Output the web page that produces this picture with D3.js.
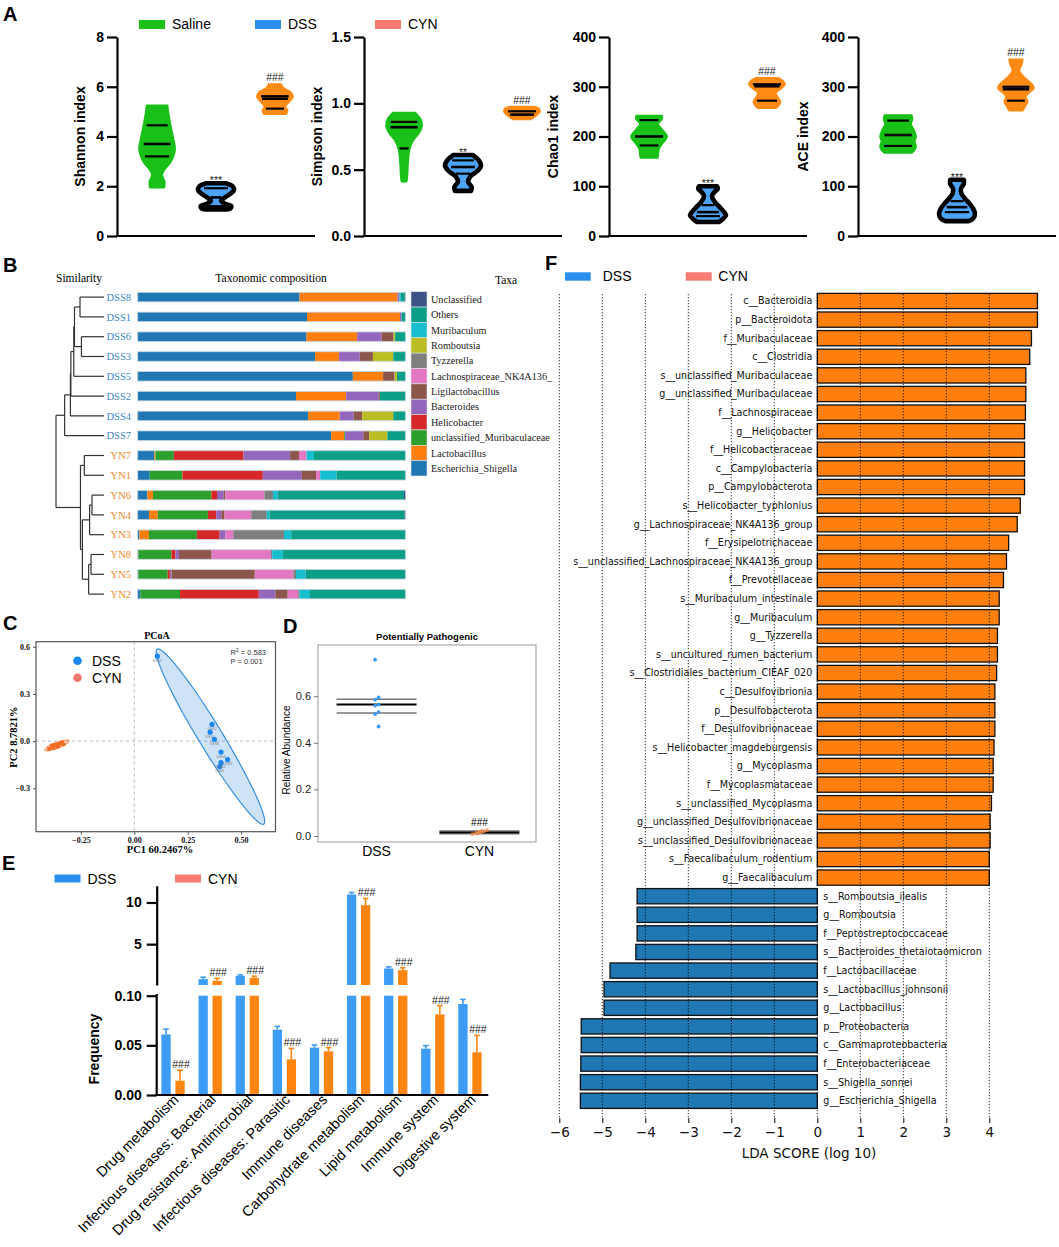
<!DOCTYPE html>
<html>
<head>
<meta charset="utf-8">
<script src="https://cdn.jsdelivr.net/npm/d3@7"></script>
<style>
  body { margin: 0; background: #fff; }
  text { font-family: "Liberation Sans", Arial, sans-serif; }
  .serif { font-family: "Liberation Serif", "Times New Roman", serif; }
  .dv { font-family: "DejaVu Sans", sans-serif; }
</style>
</head>
<body>
<svg id="fig" width="1059" height="1247"></svg>
<script>
// ---------------- data ----------------
// A: violin profiles as [value, relative width], plus median/quartile lines
var groupsA = ["Saline", "DSS", "CYN"];
var indexNames = ["Shannon index", "Simpson index", "Chao1 index", "ACE index"];
var indexMax = [8, 1.5, 400, 400];
var indexTicks = [[0, 2, 4, 6, 8], [0, 0.5, 1.0, 1.5], [0, 100, 200, 300, 400], [0, 100, 200, 300, 400]];

var shannonSaline = [[5.25,0.58],[5.0,0.62],[4.5,0.74],[4.0,0.88],[3.5,1.0],[3.0,0.78],[2.65,0.4],[2.45,0.28],[2.2,0.42],[1.95,0.4]];
var shannonDSS    = [[2.12,0.55],[2.0,0.92],[1.85,1.0],[1.7,0.8],[1.55,0.5],[1.42,0.28],[1.3,0.5],[1.2,0.85],[1.1,0.78],[1.07,0.6]];
var shannonCYN    = [[6.1,0.35],[5.95,0.48],[5.8,0.85],[5.6,1.0],[5.4,0.8],[5.2,0.58],[5.05,0.7],[4.9,0.62]];
var simpsonSaline = [[0.93,0.62],[0.88,0.92],[0.83,1.0],[0.78,0.85],[0.72,0.5],[0.65,0.3],[0.55,0.22],[0.45,0.18],[0.41,0.14]];
var simpsonDSS    = [[0.61,0.55],[0.57,0.88],[0.53,1.0],[0.49,0.8],[0.45,0.42],[0.41,0.28],[0.37,0.48],[0.34,0.45]];
var simpsonCYN    = [[0.975,0.65],[0.96,0.95],[0.94,1.0],[0.92,0.9],[0.9,0.72],[0.88,0.5]];
var chaoSaline    = [[242,0.72],[235,0.72],[225,0.5],[215,0.7],[200,1.0],[185,0.72],[175,0.55],[162,0.5],[157,0.48]];
var chaoDSS       = [[100,0.5],[95,0.55],[88,0.35],[80,0.22],[70,0.35],[60,0.6],[50,0.85],[42,1.0],[35,0.85],[28,0.6]];
var chaoCYN       = [[318,0.6],[312,0.9],[305,1.0],[297,0.8],[288,0.5],[280,0.58],[270,0.75],[262,0.65],[257,0.5]];
var aceSaline     = [[243,0.75],[235,0.8],[225,0.72],[212,0.9],[200,1.0],[190,0.92],[180,1.0],[172,0.9],[167,0.75]];
var aceDSS        = [[113,0.38],[105,0.38],[95,0.22],[85,0.25],[75,0.45],[65,0.7],[55,0.9],[45,1.0],[35,0.9],[30,0.65]];
var aceCYN        = [[355,0.38],[345,0.32],[332,0.2],[318,0.5],[305,0.9],[297,1.0],[288,0.72],[280,0.55],[270,0.65],[260,0.5],[252,0.38]];

var shannonLines = {Saline: [4.45, 3.7, 3.2], DSS: [1.92, 1.55, 1.2], CYN: [5.62, 5.52, 5.12]};
var simpsonLines = {Saline: [0.86, 0.82, 0.66], DSS: [0.57, 0.52, 0.47], CYN: [0.94, 0.915]};
var chaoLines    = {Saline: [233, 200, 182], DSS: [62, 48, 40], CYN: [305, 301, 272]};
var aceLines     = {Saline: [232, 203, 181], DSS: [70, 58, 48], CYN: [300, 295, 272]};
var sigA = [["***", "###"], ["**", "###"], ["***", "###"], ["***", "###"]];

// B: taxonomic composition (% per taxon, stacked left to right)
var taxa = ["Escherichia_Shigella", "Lactobacillus", "unclassified_Muribaculaceae", "Helicobacter", "Bacteroides",
  "Ligilactobacillus", "Lachnospiraceae_NK4A136_", "Tyzzerella", "Romboutsia", "Muribaculum", "Others", "Unclassified"];
var taxaColors = ["#1f77b4", "#ff7f0e", "#2ca02c", "#d62728", "#9467bd", "#8c564b", "#e377c2", "#7f7f7f", "#bcbd22", "#17becf", "#0a9f86", "#3c5488"];
var samples = ["DSS8", "DSS1", "DSS6", "DSS3", "DSS5", "DSS2", "DSS4", "DSS7", "YN7", "YN1", "YN6", "YN4", "YN3", "YN8", "YN5", "YN2"];
var composition = [
  [60.4, 36.6, 0, 0, 0.7, 0, 0, 0, 0, 0.5, 1.5, 0.3],
  [63.2, 34.7, 0, 0, 0.6, 0, 0, 0, 0, 0, 1.3, 0.2],
  [63.0, 18.9, 0, 0, 9.1, 4.5, 0, 0, 0.6, 0, 3.9, 0],
  [66.2, 8.9, 0, 0, 7.8, 4.9, 0, 0, 7.6, 0, 4.6, 0],
  [80.3, 11.3, 0, 0, 0, 4.3, 0, 0, 0.9, 0, 3.2, 0],
  [59.1, 18.7, 0, 0, 12.2, 0.4, 0, 0, 0, 0, 9.6, 0],
  [63.6, 11.8, 0, 0, 5.2, 3.2, 0, 0, 11.6, 0, 4.6, 0],
  [72.2, 4.9, 0.3, 0, 6.8, 2.2, 0, 0, 6.8, 0, 6.8, 0],
  [6.2, 0.4, 6.9, 26.0, 17.4, 3.3, 2.8, 0, 0, 2.8, 34.2, 0],
  [4.5, 0, 12.2, 30.0, 14.6, 5.3, 1.5, 0, 0, 6.1, 25.8, 0],
  [3.6, 2.1, 21.8, 2.1, 2.5, 0.6, 14.6, 3.2, 0, 1.8, 47.1, 0.6],
  [4.2, 3.3, 18.7, 3.1, 1.9, 1.2, 10.0, 5.8, 0, 1.0, 50.4, 0.4],
  [0.6, 3.6, 17.9, 8.5, 2.2, 0, 2.9, 18.9, 0, 2.7, 42.7, 0],
  [0.3, 0, 12.3, 1.5, 1.3, 12.2, 22.1, 0.5, 0, 4.0, 45.8, 0],
  [0.3, 0, 10.9, 0.8, 0.6, 31.1, 14.4, 1.0, 0, 3.6, 37.3, 0],
  [1.0, 0, 14.8, 29.4, 6.2, 4.6, 3.9, 0.5, 0, 3.9, 35.7, 0]
];
// dendrogram: merge heights (0 = leaves, 1 = root)
var dendro = {h: 1.0, c: [
  {h: 0.82, c: [{h: 0.70, c: [{h: 0.69, c: [{h: 0.63, c: [{h: 0.615, c: [{h: 0.50, c: ["DSS8", "DSS1"]}, {h: 0.47, c: ["DSS6", "DSS3"]}]}, "DSS5"]}, "DSS2"]}, "DSS4"]}, "DSS7"]},
  {h: 0.49, c: [{h: 0.41, c: ["YN7", "YN1"]}, {h: 0.45, c: [{h: 0.30, c: [{h: 0.25, c: ["YN6", "YN4"]}, "YN3"]}, {h: 0.32, c: [{h: 0.27, c: ["YN8", "YN5"]}, "YN2"]}]}]}
]};

// C: PCoA coordinates
var pcoaDSS = [[0.108, 0.540], [0.364, 0.106], [0.355, 0.057], [0.375, 0.011], [0.406, -0.070], [0.437, -0.118], [0.406, -0.137], [0.400, -0.162]];
var pcoaDSSnames = ["DSS7", "DSS2", "DSS4", "DSS6", "DSS8", "DSS3", "DSS5", "DSS1"];
var pcoaCYN = [[-0.398, -0.050], [-0.385, -0.028], [-0.378, -0.042], [-0.366, -0.022], [-0.358, -0.035], [-0.347, -0.015], [-0.338, -0.010], [-0.332, -0.020]];

// D: potentially pathogenic relative abundance
var ppGroups = ["DSS", "CYN"];
var ppDSS = [0.757, 0.595, 0.585, 0.564, 0.560, 0.532, 0.523, 0.470];
var ppCYN = [0.008, 0.010, 0.012, 0.015, 0.018, 0.020, 0.022, 0.025];
var ppMean = [0.565, 0.015];
var ppSE = [[0.528, 0.587], [0.009, 0.021]];

// E: predicted functions
var funcs = ["Drug metabolism", "Infectious diseases: Bacterial", "Drug resistance: Antimicrobial", "Infectious diseases: Parasitic",
  "Immune diseases", "Carbohydrate metabolism", "Lipid metabolism", "Immune system", "Digestive system"];
var dssFreq = [0.061, 0.80, 1.20, 0.0658, 0.0477, 10.96, 2.08, 0.0466, 0.0916];
var dssErr  = [0.0054, 0.24, 0.10, 0.0033, 0.0026, 0.24, 0.20, 0.0031, 0.0047];
var cynFreq = [0.0144, 0.60, 0.96, 0.0359, 0.044, 9.68, 1.88, 0.0812, 0.043];
var cynErr  = [0.0106, 0.29, 0.20, 0.0111, 0.0037, 0.80, 0.28, 0.0087, 0.017];

// F: LEfSe LDA scores
var ldaTaxa = ["c__Bacteroidia", "p__Bacteroidota", "f__Muribaculaceae", "c__Clostridia", "s__unclassified_Muribaculaceae",
  "g__unclassified_Muribaculaceae", "f__Lachnospiraceae", "g__Helicobacter", "f__Helicobacteraceae", "c__Campylobacteria",
  "p__Campylobacterota", "s__Helicobacter_typhlonius", "g__Lachnospiraceae_NK4A136_group", "f__Erysipelotrichaceae",
  "s__unclassified_Lachnospiraceae_NK4A136_group", "f__Prevotellaceae", "s__Muribaculum_intestinale", "g__Muribaculum",
  "g__Tyzzerella", "s__uncultured_rumen_bacterium", "s__Clostridiales_bacterium_CIEAF_020", "c__Desulfovibrionia",
  "p__Desulfobacterota", "f__Desulfovibrionaceae", "s__Helicobacter_magdeburgensis", "g__Mycoplasma", "f__Mycoplasmataceae",
  "s__unclassified_Mycoplasma", "g__unclassified_Desulfovibrionaceae", "s__unclassified_Desulfovibrionaceae",
  "s__Faecalibaculum_rodentium", "g__Faecalibaculum", "s__Romboutsia_ilealis", "g__Romboutsia", "f__Peptostreptococcaceae",
  "s__Bacteroides_thetaiotaomicron", "f__Lactobacillaceae", "s__Lactobacillus_johnsonii", "g__Lactobacillus",
  "p__Proteobacteria", "c__Gammaproteobacteria", "f__Enterobacteriaceae", "s__Shigella_sonnei", "g__Escherichia_Shigella"];
var ldaScore = [5.12, 5.12, 4.98, 4.94, 4.85, 4.85, 4.84, 4.82, 4.82, 4.82, 4.82, 4.72, 4.65, 4.45, 4.40, 4.33,
  4.23, 4.23, 4.19, 4.19, 4.17, 4.13, 4.13, 4.13, 4.11, 4.09, 4.09, 4.05, 4.02, 4.02, 4.00, 4.00,
  -4.19, -4.19, -4.19, -4.22, -4.82, -4.96, -4.96, -5.49, -5.49, -5.50, -5.51, -5.51];
var ldaTicks = [-6, -5, -4, -3, -2, -1, 0, 1, 2, 3, 4];

// ---------------- drawing ----------------
var svg = d3.select("#fig");
var legendBlue = "#2b8ff0", legendSalmon = "#f77b72";

function panelLabel(t, x, y) {
  svg.append("text").attr("x", x).attr("y", y).attr("font-size", 20).attr("font-weight", "bold").text(t);
}
function vLabel(g, t, x, y, size, weight, cls) {
  g.append("text").attr("class", cls || null)
    .attr("transform", "translate(" + x + "," + y + ") rotate(-90)")
    .attr("text-anchor", "middle").attr("dy", "0.35em")
    .attr("font-size", size).attr("font-weight", weight).text(t);
}
function styleAxis(sel, w, size) {
  sel.selectAll("path, line").attr("stroke", "#000").attr("stroke-width", w);
  sel.selectAll("text").attr("font-size", size).attr("font-weight", "bold").attr("fill", "#000")
    .attr("font-family", "'Liberation Sans', Arial, sans-serif");
}
function legendItem(x, y, h, color, label) {
  svg.append("rect").attr("x", x).attr("y", y).attr("width", 26).attr("height", h).attr("fill", color);
  svg.append("text").attr("x", x + 33).attr("y", y + 9).attr("font-size", 14).text(label);
}

// ===== A =====
panelLabel("A", 3, 21);
legendItem(139, 20, 9, "#18c018", "Saline");
legendItem(255, 20, 9, legendBlue, "DSS");
legendItem(375, 20, 9, legendSalmon, "CYN");

var violins = [
  {Saline: shannonSaline, DSS: shannonDSS, CYN: shannonCYN},
  {Saline: simpsonSaline, DSS: simpsonDSS, CYN: simpsonCYN},
  {Saline: chaoSaline, DSS: chaoDSS, CYN: chaoCYN},
  {Saline: aceSaline, DSS: aceDSS, CYN: aceCYN}
];
var violinLines = [shannonLines, simpsonLines, chaoLines, aceLines];
var fillA = {Saline: "#18c018", DSS: "#4da3f5", CYN: "#ff8b14"};
var strokeA = {Saline: "#18c018", DSS: "#000", CYN: "#ff8b14"};
var chartX = [117, 364, 609, 858], chartW = 198, aTop = 37, aBot = 236;
var labelOff = [37, 47, 56, 55];
var tickFmt = [d3.format("d"), d3.format(".1f"), d3.format("d"), d3.format("d")];

indexNames.forEach(function(name, k) {
  var g = svg.append("g");
  var y = d3.scaleLinear().domain([0, indexMax[k]]).range([aBot, aTop]);
  var x = d3.scalePoint().domain(groupsA).range([chartX[k], chartX[k] + chartW]).padding(0.68);
  var w = d3.scaleLinear().domain([0, 1]).range([0, 18]);

  var ax = g.append("g").attr("transform", "translate(" + chartX[k] + ",0)")
    .call(d3.axisLeft(y).tickValues(indexTicks[k]).tickFormat(tickFmt[k]).tickSize(10).tickSizeOuter(0).tickPadding(3));
  styleAxis(ax, 2.2, 14);
  g.append("line").attr("x1", chartX[k] - 1).attr("x2", chartX[k] + chartW).attr("y1", aBot).attr("y2", aBot)
    .attr("stroke", "#000").attr("stroke-width", 2.2);
  vLabel(g, name, chartX[k] - labelOff[k], (aTop + aBot) / 2, 14, "bold");

  groupsA.forEach(function(grp, gi) {
    var prof = violins[k][grp];
    var cx = x(grp);
    var area = d3.area().curve(d3.curveCatmullRom)
      .y(function(d) { return y(d[0]); })
      .x0(function(d) { return cx - w(d[1]); })
      .x1(function(d) { return cx + w(d[1]); });
    g.append("path").datum(prof).attr("d", area)
      .attr("fill", fillA[grp]).attr("stroke", strokeA[grp])
      .attr("stroke-width", grp === "DSS" ? 4.6 : 1.8).attr("stroke-linejoin", "round");
    var widthAt = d3.scaleLinear().domain(prof.map(function(p) { return p[0]; })).range(prof.map(function(p) { return p[1]; })).clamp(true);
    violinLines[k][grp].forEach(function(v, i) {
      var hw = Math.max(2, w(widthAt(v)) * 0.78 - (grp === "DSS" ? 1.5 : 0));
      g.append("line").attr("x1", cx - hw).attr("x2", cx + hw).attr("y1", y(v)).attr("y2", y(v))
        .attr("stroke", "#000").attr("stroke-width", i === 1 ? 2.6 : 2.2);
    });
    if (gi > 0) {
      var top = y(prof[0][0]);
      var s = sigA[k][gi - 1];
      g.append("text").attr("x", cx).attr("y", s.charAt(0) === "#" ? top - 3 : top + 1)
        .attr("text-anchor", "middle").attr("font-size", 10.5).attr("fill", "#222").text(s);
    }
  });
});

// ===== B =====
panelLabel("B", 3, 272);
svg.append("text").attr("class", "serif").attr("x", 56).attr("y", 282).attr("font-size", 11.5).text("Similarity");
svg.append("text").attr("class", "serif").attr("x", 271).attr("y", 282).attr("text-anchor", "middle").attr("font-size", 11.5).text("Taxonomic composition");
svg.append("text").attr("class", "serif").attr("x", 506).attr("y", 284).attr("text-anchor", "middle").attr("font-size", 11.5).text("Taxa");

var yB = d3.scaleBand().domain(samples).range([287.2, 604]).paddingInner(0.52).paddingOuter(0.26);
var xB = d3.scaleLinear().domain([0, 100]).range([137.7, 405.6]);
var rowsB = samples.map(function(s, i) {
  var o = {sample: s};
  taxa.forEach(function(t, j) { o[t] = composition[i][j]; });
  return o;
});
var stackB = d3.stack().keys(taxa)(rowsB);
var gB = svg.append("g");
gB.selectAll("g.layer").data(stackB).enter().append("g").attr("fill", function(d, i) { return taxaColors[i]; })
  .selectAll("rect").data(function(d) { return d; }).enter().append("rect")
  .attr("x", function(d) { return xB(d[0]); })
  .attr("width", function(d) { return Math.max(0, xB(d[1]) - xB(d[0])); })
  .attr("y", function(d) { return yB(d.data.sample); })
  .attr("height", yB.bandwidth());
gB.selectAll("rect.frame").data(samples).enter().append("rect").attr("class", "frame")
  .attr("x", xB(0)).attr("width", xB(100) - xB(0))
  .attr("y", function(d) { return yB(d); }).attr("height", yB.bandwidth())
  .attr("fill", "none").attr("stroke", "#c6d3de").attr("stroke-width", 0.8);
gB.selectAll("text.sample").data(samples).enter().append("text").attr("class", "serif")
  .attr("x", 131).attr("y", function(d) { return yB(d) + yB.bandwidth() / 2; }).attr("dy", "0.35em")
  .attr("text-anchor", "end").attr("font-size", 10.5)
  .attr("fill", function(d) { return d.indexOf("DSS") === 0 ? "#3a86c8" : "#f08a1e"; })
  .text(function(d) { return d; });

// dendrogram
var hx = d3.scaleLinear().domain([0, 1]).range([104, 56]);
function drawTree(node) {
  if (typeof node === "string") return {x: hx(0), y: yB(node) + yB.bandwidth() / 2};
  var kids = node.c.map(drawTree);
  var xh = hx(node.h);
  kids.forEach(function(k) {
    gB.append("line").attr("x1", xh).attr("x2", k.x).attr("y1", k.y).attr("y2", k.y);
  });
  gB.append("line").attr("x1", xh).attr("x2", xh).attr("y1", kids[0].y).attr("y2", kids[kids.length - 1].y);
  return {x: xh, y: (kids[0].y + kids[kids.length - 1].y) / 2};
}
drawTree(dendro);
gB.selectAll("line").attr("stroke", "#333").attr("stroke-width", 1.2);

// taxa legend (reverse stack order)
var legTaxa = taxa.slice().reverse(), legColors = taxaColors.slice().reverse();
var yLeg = d3.scaleBand().domain(legTaxa).range([291.7, 476]);
legTaxa.forEach(function(t, i) {
  gB.append("rect").attr("x", 411).attr("y", yLeg(t)).attr("width", 16).attr("height", yLeg.bandwidth())
    .attr("fill", legColors[i]).attr("stroke", "#dde4ea").attr("stroke-width", 0.6);
  gB.append("text").attr("class", "serif").attr("x", 431).attr("y", yLeg(t) + yLeg.bandwidth() / 2)
    .attr("dy", "0.35em").attr("font-size", 10.2).attr("fill", "#222").text(t);
});

// ===== C =====
panelLabel("C", 3, 630);
var gC = svg.append("g");
var xC = d3.scaleLinear().domain([-0.46, 0.661]).range([36, 275.5]);
var yC = d3.scaleLinear().domain([-0.576, 0.632]).range([831.7, 641.7]);
gC.append("line").attr("x1", xC(0)).attr("x2", xC(0)).attr("y1", yC.range()[1]).attr("y2", yC.range()[0])
  .attr("stroke", "#bbb").attr("stroke-dasharray", "3,3");
gC.append("line").attr("x1", xC.range()[0]).attr("x2", xC.range()[1]).attr("y1", yC(0)).attr("y2", yC(0))
  .attr("stroke", "#bbb").attr("stroke-dasharray", "3,3");

function ellipsePath(pts) {
  var n = pts.length;
  var mx = d3.mean(pts, function(p) { return p[0]; }), my = d3.mean(pts, function(p) { return p[1]; });
  var sxx = d3.sum(pts, function(p) { return (p[0] - mx) * (p[0] - mx); }) / (n - 1);
  var syy = d3.sum(pts, function(p) { return (p[1] - my) * (p[1] - my); }) / (n - 1);
  var sxy = d3.sum(pts, function(p) { return (p[0] - mx) * (p[1] - my); }) / (n - 1);
  var tr = sxx + syy, det = sxx * syy - sxy * sxy;
  var l1 = tr / 2 + Math.sqrt(tr * tr / 4 - det), l2 = tr / 2 - Math.sqrt(tr * tr / 4 - det);
  var th = Math.atan2(l1 - sxx, sxy);
  var r = Math.sqrt(5.991);
  var out = d3.range(0, 361, 4).map(function(a) {
    var t = a * Math.PI / 180;
    var u = r * Math.sqrt(l1) * Math.cos(t), v = r * Math.sqrt(Math.max(l2, 0)) * Math.sin(t);
    return [xC(mx + u * Math.cos(th) - v * Math.sin(th)), yC(my + u * Math.sin(th) + v * Math.cos(th))];
  });
  return d3.line()(out) + "Z";
}
gC.append("path").attr("d", ellipsePath(pcoaDSS)).attr("fill", "#3b8fe0").attr("fill-opacity", 0.25)
  .attr("stroke", "#3b8fe0").attr("stroke-width", 1.2);
gC.append("path").attr("d", ellipsePath(pcoaCYN)).attr("fill", "#f26b22").attr("fill-opacity", 0.2)
  .attr("stroke", "#f26b22").attr("stroke-width", 1);
gC.selectAll("circle.dss").data(pcoaDSS).enter().append("circle")
  .attr("cx", function(d) { return xC(d[0]); }).attr("cy", function(d) { return yC(d[1]); })
  .attr("r", 2.6).attr("fill", "#1a86f0");
gC.selectAll("text.dssn").data(pcoaDSS).enter().append("text")
  .attr("x", function(d) { return xC(d[0]); }).attr("y", function(d) { return yC(d[1]) + 5.5; })
  .attr("text-anchor", "middle").attr("font-size", 3.5).attr("fill", "#777")
  .text(function(d, i) { return pcoaDSSnames[i]; });
gC.selectAll("circle.cyn").data(pcoaCYN).enter().append("circle")
  .attr("cx", function(d) { return xC(d[0]); }).attr("cy", function(d) { return yC(d[1]); })
  .attr("r", 2.3).attr("fill", "#f26b22");
gC.append("rect").attr("x", 36).attr("y", 641.7).attr("width", 239.5).attr("height", 190)
  .attr("fill", "none").attr("stroke", "#555").attr("stroke-width", 1.2);
var axCx = gC.append("g").attr("transform", "translate(0,831.7)")
  .call(d3.axisBottom(xC).tickValues([-0.25, 0, 0.25, 0.5]).tickFormat(d3.format(".2f")).tickSize(3).tickSizeOuter(0));
var axCy = gC.append("g").attr("transform", "translate(36,0)")
  .call(d3.axisLeft(yC).tickValues([-0.3, 0, 0.3, 0.6]).tickFormat(d3.format(".1f")).tickSize(3).tickSizeOuter(0));
[axCx, axCy].forEach(function(a) {
  a.select(".domain").remove();
  a.selectAll("line").attr("stroke", "#555");
  a.selectAll("text").attr("class", "serif").attr("font-size", 8).attr("font-weight", "bold").attr("fill", "#111");
});
gC.append("text").attr("class", "serif").attr("x", 157).attr("y", 639).attr("text-anchor", "middle")
  .attr("font-size", 10).attr("font-weight", "bold").text("PCoA");
gC.append("text").attr("class", "serif").attr("x", 160).attr("y", 853).attr("text-anchor", "middle")
  .attr("font-size", 10.5).attr("font-weight", "bold").text("PC1 60.2467%");
vLabel(gC, "PC2 8.7821%", 13, 737, 10.5, "bold", "serif");
gC.append("circle").attr("cx", 77.5).attr("cy", 660.7).attr("r", 4.3).attr("fill", "#1a86f0");
gC.append("text").attr("x", 92).attr("y", 660.7).attr("dy", "0.35em").attr("font-size", 14).text("DSS");
gC.append("circle").attr("cx", 77.5).attr("cy", 677.7).attr("r", 4.3).attr("fill", "#f4756e");
gC.append("text").attr("x", 92).attr("y", 677.7).attr("dy", "0.35em").attr("font-size", 14).text("CYN");
var r2 = gC.append("text").attr("x", 230.5).attr("y", 655).attr("font-size", 7.5).attr("fill", "#333");
r2.append("tspan").text("R");
r2.append("tspan").attr("dy", -3).attr("font-size", 5).text("2");
r2.append("tspan").attr("dy", 3).text(" = 0.583");
gC.append("text").attr("x", 230.5).attr("y", 663.5).attr("font-size", 7.5).attr("fill", "#333").text("P = 0.001");

// ===== D =====
panelLabel("D", 283, 633);
var gD = svg.append("g");
var xD = d3.scalePoint().domain(ppGroups).range([320, 536]).padding(0.55);
var yD = d3.scaleLinear().domain([-0.026, 0.82]).range([842, 645]);
gD.append("rect").attr("x", 318).attr("y", 645).attr("width", 218).attr("height", 197)
  .attr("fill", "none").attr("stroke", "#999").attr("stroke-width", 1);
var axDy = gD.append("g").attr("transform", "translate(318,0)")
  .call(d3.axisLeft(yD).tickValues([0, 0.2, 0.4, 0.6]).tickFormat(d3.format(".1f")).tickSize(4).tickSizeOuter(0));
axDy.select(".domain").remove();
axDy.selectAll("line").attr("stroke", "#777");
axDy.selectAll("text").attr("font-size", 11).attr("fill", "#222");
vLabel(gD, "Relative Abundance", 286, 750, 10, "normal");
gD.append("text").attr("x", 427).attr("y", 640).attr("text-anchor", "middle").attr("font-size", 9.5)
  .attr("font-weight", "bold").text("Potentially Pathogenic");
ppGroups.forEach(function(grp, gi) {
  var cx = xD(grp);
  gD.append("text").attr("x", cx).attr("y", 856).attr("text-anchor", "middle").attr("font-size", 14).text(grp);
  ppSE[gi].forEach(function(v) {
    gD.append("line").attr("x1", cx - 40).attr("x2", cx + 40).attr("y1", yD(v)).attr("y2", yD(v))
      .attr("stroke", "#777").attr("stroke-width", 1.4);
  });
  gD.append("line").attr("x1", cx - 40).attr("x2", cx + 40).attr("y1", yD(ppMean[gi])).attr("y2", yD(ppMean[gi]))
    .attr("stroke", "#000").attr("stroke-width", 2);
  var vals = gi === 0 ? ppDSS : ppCYN;
  gD.selectAll("circle.g" + gi).data(vals).enter().append("circle")
    .attr("cx", function(d, i) { return cx + (i % 2 === 0 ? -1.5 : 2) + (gi === 1 ? (i - 3.5) * 1.6 : 0); })
    .attr("cy", function(d) { return yD(d); })
    .attr("r", 1.9).attr("fill", gi === 0 ? "#3d9cf5" : "#f08c4a").attr("fill-opacity", gi === 0 ? 1 : 0.8);
});
gD.append("text").attr("x", xD("CYN")).attr("y", 826).attr("text-anchor", "middle").attr("font-size", 10).text("###");

// ===== E =====
panelLabel("E", 2, 870);
legendItem(54.5, 874.5, 8, legendBlue, "DSS");
legendItem(175, 874.5, 8, legendSalmon, "CYN");

var gE = svg.append("g");
var xE = d3.scaleBand().domain(funcs).range([154.5, 488.5]);
var xSub = d3.scaleBand().domain(["DSS", "CYN"]).range([0, xE.bandwidth()]).paddingInner(0.336).paddingOuter(0.493);
var yLow = d3.scaleLinear().domain([0, 0.1]).range([1095, 995.7]);
var yUp = d3.scaleLinear().domain([0.1, 12]).range([985, 885.8]);
var colorE = {DSS: "#3d9cf5", CYN: "#ff8410"};

funcs.forEach(function(f, i) {
  [["DSS", dssFreq[i], dssErr[i]], ["CYN", cynFreq[i], cynErr[i]]].forEach(function(b) {
    var bx = xE(f) + xSub(b[0]), bw = xSub.bandwidth(), v = b[1], e = b[2];
    var lowTop = yLow(Math.min(v, 0.1));
    gE.append("rect").attr("x", bx).attr("width", bw).attr("y", lowTop).attr("height", 1095 - lowTop).attr("fill", colorE[b[0]]);
    var sc = v > 0.1 ? yUp : yLow;
    if (v > 0.1) {
      gE.append("rect").attr("x", bx).attr("width", bw).attr("y", yUp(v)).attr("height", 985 - yUp(v)).attr("fill", colorE[b[0]]);
    }
    var cx = bx + bw / 2;
    gE.append("line").attr("x1", cx).attr("x2", cx).attr("y1", sc(v)).attr("y2", sc(v + e))
      .attr("stroke", colorE[b[0]]).attr("stroke-width", 1.6);
    gE.append("line").attr("x1", cx - 2.8).attr("x2", cx + 2.8).attr("y1", sc(v + e)).attr("y2", sc(v + e))
      .attr("stroke", colorE[b[0]]).attr("stroke-width", 1.6);
    if (b[0] === "CYN") {
      gE.append("text").attr("x", cx + 1).attr("y", sc(v + e) - 2).attr("text-anchor", "middle")
        .attr("font-size", 10.5).attr("fill", "#222").text("###");
    }
  });
});
var axLow = gE.append("g").attr("transform", "translate(156.7,0)")
  .call(d3.axisLeft(yLow).tickValues([0, 0.05, 0.1]).tickFormat(d3.format(".2f")).tickSize(10).tickSizeOuter(0).tickPadding(5));
styleAxis(axLow, 2.2, 14);
axLow.select(".domain").attr("d", "M0,1095V994");
var axUp = gE.append("g").attr("transform", "translate(156.7,0)")
  .call(d3.axisLeft(yUp).tickValues([5, 10]).tickFormat(d3.format("d")).tickSize(10).tickSizeOuter(0).tickPadding(5));
styleAxis(axUp, 2.2, 14);
gE.append("line").attr("x1", 155.6).attr("x2", 488.3).attr("y1", 1095).attr("y2", 1095).attr("stroke", "#000").attr("stroke-width", 2.2);
vLabel(gE, "Frequency", 93.7, 1049, 14, "bold");
gE.selectAll("text.cat").data(funcs).enter().append("text")
  .attr("transform", function(d) { return "translate(" + (xE(d) + xE.bandwidth() / 2 + 3) + ",1097) rotate(-45)"; })
  .attr("text-anchor", "end").attr("dy", "0.35em").attr("font-size", 14.5).text(function(d) { return d; });

// ===== F =====
panelLabel("F", 545, 270);
svg.append("rect").attr("x", 565).attr("y", 272.3).attr("width", 25.7).attr("height", 8.4).attr("fill", legendBlue);
svg.append("text").attr("x", 602.7).attr("y", 281).attr("font-size", 14).text("DSS");
svg.append("rect").attr("x", 685.7).attr("y", 272.3).attr("width", 26).attr("height", 8.4).attr("fill", legendSalmon);
svg.append("text").attr("x", 718.3).attr("y", 281).attr("font-size", 14).text("CYN");

var gF = svg.append("g");
var xF = d3.scaleLinear().domain([-6, 4]).range([559.3, 989.3]);
var yF = d3.scaleBand().domain(ldaTaxa).range([291.7, 1110.1]).paddingInner(0.18).paddingOuter(0.09);
gF.selectAll("rect.lda").data(ldaTaxa).enter().append("rect")
  .attr("x", function(d, i) { return xF(Math.min(0, ldaScore[i])); })
  .attr("width", function(d, i) { return Math.abs(xF(ldaScore[i]) - xF(0)); })
  .attr("y", function(d) { return yF(d); }).attr("height", yF.bandwidth())
  .attr("fill", function(d, i) { return ldaScore[i] > 0 ? "#ff7f0e" : "#1f77b4"; })
  .attr("stroke", "#111").attr("stroke-width", 1.3);
gF.selectAll("text.lda").data(ldaTaxa).enter().append("text").attr("class", "dv")
  .attr("x", function(d, i) { return ldaScore[i] > 0 ? xF(0) - 5 : xF(0) + 6; })
  .attr("y", function(d) { return yF(d) + yF.bandwidth() / 2; }).attr("dy", "0.36em")
  .attr("text-anchor", function(d, i) { return ldaScore[i] > 0 ? "end" : "start"; })
  .attr("font-size", 9.6).attr("fill", "#111").text(function(d) { return d; });
gF.selectAll("line.grid").data(ldaTicks).enter().append("line")
  .attr("x1", function(d) { return xF(d); }).attr("x2", function(d) { return xF(d); })
  .attr("y1", 294).attr("y2", 1119)
  .attr("stroke", "#000").attr("stroke-width", 0.8).attr("stroke-dasharray", "1.3,1.7");
var axF = gF.append("g").attr("transform", "translate(0,1118)")
  .call(d3.axisBottom(xF).tickValues(ldaTicks).tickFormat(d3.format("d")).tickSize(5).tickPadding(4));
axF.select(".domain").remove();
axF.selectAll("line").attr("stroke", "#000").attr("stroke-width", 1);
axF.selectAll("text").attr("class", "dv").attr("font-size", 13.5).attr("fill", "#111");
gF.append("text").attr("class", "dv").attr("x", 809).attr("y", 1158).attr("text-anchor", "middle")
  .attr("font-size", 13.5).attr("fill", "#111").text("LDA SCORE (log 10)");
</script>
</body>
</html>
